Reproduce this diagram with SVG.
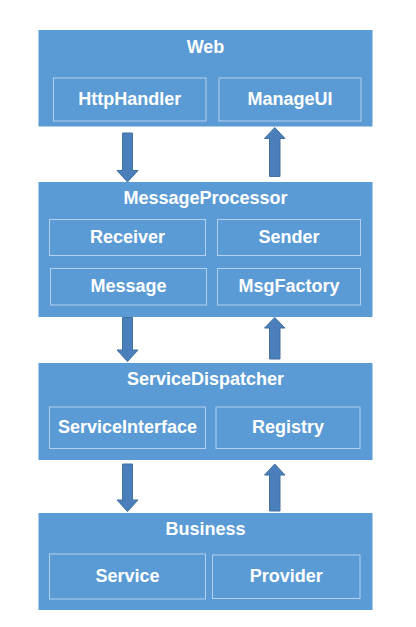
<svg xmlns="http://www.w3.org/2000/svg" width="416" height="627" viewBox="0 0 416 627">
<style>
.outer{fill:#5b9bd5;}
.inner{fill:#5b9bd5;stroke:#b4d0ee;stroke-width:1;}
.t{font-family:"Liberation Sans",Arial,sans-serif;font-weight:bold;font-size:18px;fill:#ffffff;text-anchor:middle;}
.arr{fill:#4a7fbb;stroke:#41719c;stroke-width:1;}
</style>
<rect x="0" y="0" width="416" height="627" fill="#ffffff"/>
<g id="web">
<rect class="outer" x="38.5" y="30" width="334" height="96.5"/>
<text class="t" x="205.5" y="52.5">Web</text>
<g id="httphandler"><rect class="inner" x="53.5" y="78" width="152.5" height="43"/><text class="t" x="129.7" y="104.5">HttpHandler</text></g>
<g id="manageui"><rect class="inner" x="219" y="78" width="142" height="43"/><text class="t" x="290" y="104.5">ManageUI</text></g>
</g>
<g id="messageprocessor">
<rect class="outer" x="38.5" y="182" width="334" height="135"/>
<text class="t" x="205.5" y="204.3">MessageProcessor</text>
<g id="receiver"><rect class="inner" x="49.5" y="219.5" width="156" height="36"/><text class="t" x="127.5" y="242.7">Receiver</text></g>
<g id="sender"><rect class="inner" x="217.5" y="219.5" width="143" height="36"/><text class="t" x="289" y="242.7">Sender</text></g>
<g id="message"><rect class="inner" x="50.5" y="268.5" width="156" height="36.5"/><text class="t" x="128.5" y="291.7">Message</text></g>
<g id="msgfactory"><rect class="inner" x="217.5" y="268.5" width="143" height="36.5"/><text class="t" x="289" y="291.7">MsgFactory</text></g>
</g>
<g id="servicedispatcher">
<rect class="outer" x="38.5" y="363" width="334" height="97"/>
<text class="t" x="205.5" y="385">ServiceDispatcher</text>
<g id="serviceinterface"><rect class="inner" x="49.5" y="407" width="156" height="41.5"/><text class="t" x="127.5" y="432.7">ServiceInterface</text></g>
<g id="registry"><rect class="inner" x="216" y="407" width="144" height="41.5"/><text class="t" x="288" y="432.7">Registry</text></g>
</g>
<g id="business">
<rect class="outer" x="38.5" y="513" width="334" height="97"/>
<text class="t" x="205.5" y="535">Business</text>
<g id="service"><rect class="inner" x="49.5" y="554" width="156" height="45"/><text class="t" x="127.5" y="581.7">Service</text></g>
<g id="provider"><rect class="inner" x="212.5" y="555" width="147.5" height="43.5"/><text class="t" x="286.2" y="581.7">Provider</text></g>
</g>
<g id="connectors">
<polygon class="arr" points="122.5,133 132.5,133 132.5,170.5 138,170.5 127.5,182 117,170.5 122.5,170.5"/>
<polygon class="arr" points="269.5,176.5 280,176.5 280,138.5 285,138.5 274.75,127.5 264.5,138.5 269.5,138.5"/>
<polygon class="arr" points="122.5,317.5 132.5,317.5 132.5,350 138,350 127.5,361.5 117,350 122.5,350"/>
<polygon class="arr" points="269.5,359 280,359 280,328 285,328 274.75,317.5 264.5,328 269.5,328"/>
<polygon class="arr" points="122.5,464 132.5,464 132.5,500 138,500 127.5,511.5 117,500 122.5,500"/>
<polygon class="arr" points="269.5,511 280,511 280,475 285,475 274.75,464 264.5,475 269.5,475"/>
</g>
</svg>
